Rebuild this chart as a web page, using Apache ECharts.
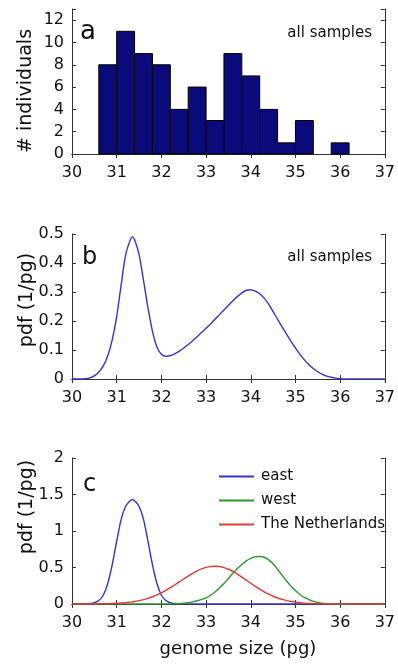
<!DOCTYPE html>
<html><head><meta charset="utf-8">
<script src="https://cdn.jsdelivr.net/npm/echarts@6/dist/echarts.min.js"></script>
<style>html,body{margin:0;padding:0;background:#fff}#c{width:398px;height:666px}</style>
</head><body><div id="c"></div>
<script>
// ---- data ----
const xTicks = [30, 31, 32, 33, 34, 35, 36, 37];
const yTicksA = [0, 2, 4, 6, 8, 10, 12];
const binLeft = [30.6, 31.0, 31.4, 31.8, 32.2, 32.6, 33.0, 33.4, 33.8, 34.2, 34.6, 35.0, 35.4, 35.8];
const binWidth = 0.4;
const counts = [8, 11, 9, 8, 4, 6, 3, 9, 7, 4, 1, 3, 0, 1];

const genomeSize = [
  30.0,30.1,30.2,30.3,30.4,30.5,30.6,30.7,30.8,30.9,
  31.0,31.1,31.2,31.3,31.35,31.4,31.5,31.6,31.7,31.8,31.9,
  32.0,32.1,32.2,32.3,32.4,32.5,32.6,32.7,32.8,32.9,
  33.0,33.1,33.2,33.3,33.4,33.5,33.6,33.7,33.8,33.9,
  34.0,34.1,34.2,34.3,34.4,34.5,34.6,34.7,34.8,34.9,
  35.0,35.1,35.2,35.3,35.4,35.5,35.6,35.7,35.8,35.9,
  36.0,36.1,36.2,36.3,36.4,36.5,36.6,36.7,36.8,36.9,
  37.0
];
const pdfAll = [
  0,0,0,0.001,0.004,0.011,0.024,0.045,0.08,0.135,
  0.215,0.325,0.428,0.478,0.49,0.48,0.43,0.34,0.245,0.165,0.11,
  0.085,0.078,0.081,0.087,0.096,0.107,0.119,0.132,0.146,0.16,
  0.175,0.19,0.206,0.222,0.238,0.254,0.27,0.284,0.297,0.306,
  0.308,0.303,0.294,0.279,0.258,0.232,0.206,0.18,0.155,0.13,
  0.107,0.085,0.066,0.049,0.036,0.025,0.016,0.01,0.006,0.003,
  0.001,0,0,0,0,0,0,0,0,0,
  0
];
const pdfEast = [
  0,0,0.001,0.002,0.006,0.017,0.048,0.12,0.28,0.54,
  0.86,1.16,1.34,1.415,1.43,1.415,1.34,1.16,0.86,0.54,0.28,
  0.12,0.048,0.017,0.006,0.002,0.001,0,0,0,0,
  0,0,0,0,0,0,0,0,0,0,
  0,0,0,0,0,0,0,0,0,0,
  0,0,0,0,0,0,0,0,0,0,
  0,0,0,0,0,0,0,0,0,0,
  0
];
const pdfWest = [
  0,0,0,0,0,0,0,0,0,0,
  0,0,0,0,0,0,0,0,0,0,0,
  0,0,0.001,0.003,0.005,0.01,0.018,0.03,0.045,0.063,
  0.085,0.12,0.165,0.22,0.28,0.35,0.42,0.485,0.54,0.59,
  0.625,0.645,0.65,0.64,0.605,0.55,0.475,0.395,0.315,0.245,
  0.185,0.13,0.09,0.06,0.037,0.02,0.01,0.005,0.002,0.001,
  0,0,0,0,0,0,0,0,0,0,
  0
];
const pdfNL = [
  0,0,0,0.001,0.001,0.001,0.002,0.003,0.004,0.006,
  0.009,0.013,0.018,0.025,0.029,0.034,0.046,0.06,0.078,0.099,0.125,
  0.154,0.187,0.223,0.262,0.302,0.342,0.382,0.419,0.453,0.481,
  0.501,0.514,0.518,0.513,0.499,0.476,0.446,0.41,0.369,0.327,
  0.284,0.242,0.203,0.166,0.134,0.106,0.082,0.063,0.047,0.034,
  0.025,0.018,0.012,0.008,0.005,0.003,0.002,0.001,0.001,0,
  0,0,0,0,0,0,0,0,0,0,
  0
];
const seriesNames = ['east', 'west', 'The Netherlands'];

// ---- styling ----
const FONT = '"DejaVu Sans", sans-serif';
const INK = '#333';
const grids = [
  { left: 72, top: 9, width: 315, height: 145 },
  { left: 72, top: 234, width: 315, height: 145 },
  { left: 72, top: 458, width: 315, height: 146 }
];
const yRanges = [
  { min: 0, max: 13, interval: 2 },
  { min: 0, max: 0.5, interval: 0.1 },
  { min: 0, max: 2, interval: 0.5 }
];
const lineStyleAxis = { color: INK, width: 1 };
const tick = { show: true, inside: true, length: 4, lineStyle: { color: INK } };

const xAxis = [], yAxis = [];
grids.forEach((g, i) => {
  const xr = { type: 'value', gridIndex: i, min: xTicks[0], max: xTicks[xTicks.length - 1], interval: 1,
    splitLine: { show: false }, axisLine: { show: true, lineStyle: lineStyleAxis }, axisTick: tick };
  xAxis.push(Object.assign({}, xr, { position: 'bottom',
    axisLabel: { show: true, margin: 11, fontFamily: FONT, fontSize: 16, color: '#111' } }));
  xAxis.push(Object.assign({}, xr, { position: 'top', axisLabel: { show: false } }));
  const yr = Object.assign({ type: 'value', gridIndex: i, splitLine: { show: false },
    axisLine: { show: true, lineStyle: lineStyleAxis }, axisTick: tick }, yRanges[i]);
  yAxis.push(Object.assign({}, yr, { position: 'left',
    axisLabel: { show: true, margin: 8, fontFamily: FONT, fontSize: 16, color: '#111',
      formatter: v => (i === 0 && yTicksA.indexOf(v) < 0) ? '' : String(v) } }));
  yAxis.push(Object.assign({}, yr, { position: 'right', axisLabel: { show: false } }));
});

const pairs = arr => genomeSize.map((x, k) => [x, arr[k]]);
const lineSeries = (name, arr, color, gi) => ({
  name: name, type: 'line', xAxisIndex: gi * 2, yAxisIndex: gi * 2,
  data: pairs(arr), showSymbol: false, symbol: 'none', smooth: 0.25,
  lineStyle: { color: color, width: 1.4, join: 'round' }, itemStyle: { color: color }, silent: true
});

const BLUE = '#3434d6', GREEN = '#2c982c', RED = '#e13a3a';

const txt = (text, x, y, size, align, rot) => ({
  type: 'text', x: x, y: y, rotation: rot || 0, silent: true,
  style: { text: text, font: size + 'px ' + FONT, fill: '#111', textAlign: align || 'left', textVerticalAlign: 'middle' }
});

const option = {
  animation: false,
  backgroundColor: '#fff',
  grid: grids,
  xAxis: xAxis,
  yAxis: yAxis,
  legend: {
    data: seriesNames, orient: 'vertical', left: 214, top: 464,
    icon: 'rect', itemWidth: 35, itemHeight: 2, itemGap: 9, selectedMode: false,
    textStyle: { fontFamily: FONT, fontSize: 15, color: '#111', padding: [0, 0, 0, 2] }
  },
  series: [
    {
      type: 'custom', xAxisIndex: 0, yAxisIndex: 0, silent: true,
      data: binLeft.map((b, k) => [b, counts[k], binWidth]),
      encode: { x: 0, y: 1 },
      renderItem: function (params, api) {
        const x0 = api.value(0), c = api.value(1), w = api.value(2);
        if (!c) return { type: 'group', children: [] };
        const p0 = api.coord([x0, c]);
        const p1 = api.coord([x0 + w, 0]);
        return { type: 'rect',
          shape: { x: p0[0], y: p0[1], width: p1[0] - p0[0], height: p1[1] - p0[1] },
          style: { fill: '#0b0b7c', stroke: '#000', lineWidth: 1 } };
      }
    },
    lineSeries('all samples', pdfAll, BLUE, 1),
    lineSeries(seriesNames[0], pdfEast, BLUE, 2),
    lineSeries(seriesNames[1], pdfWest, GREEN, 2),
    lineSeries(seriesNames[2], pdfNL, RED, 2)
  ],
  graphic: [
    txt('a', 80, 32, 26),
    txt('b', 82, 258, 24),
    txt('c', 83, 485, 24),
    txt('all samples', 372, 33, 15, 'right'),
    txt('all samples', 372, 257, 15, 'right'),
    txt('# individuals', 26, 91, 19, 'center', Math.PI / 2),
    txt('pdf (1/pg)', 27, 300, 19, 'center', Math.PI / 2),
    txt('pdf (1/pg)', 27, 507, 19, 'center', Math.PI / 2),
    txt('genome size (pg)', 238, 649, 18, 'center')
  ]
};
const chart = echarts.init(document.getElementById('c'), null, { renderer: 'canvas' });
chart.setOption(option);
</script>
</body></html>
